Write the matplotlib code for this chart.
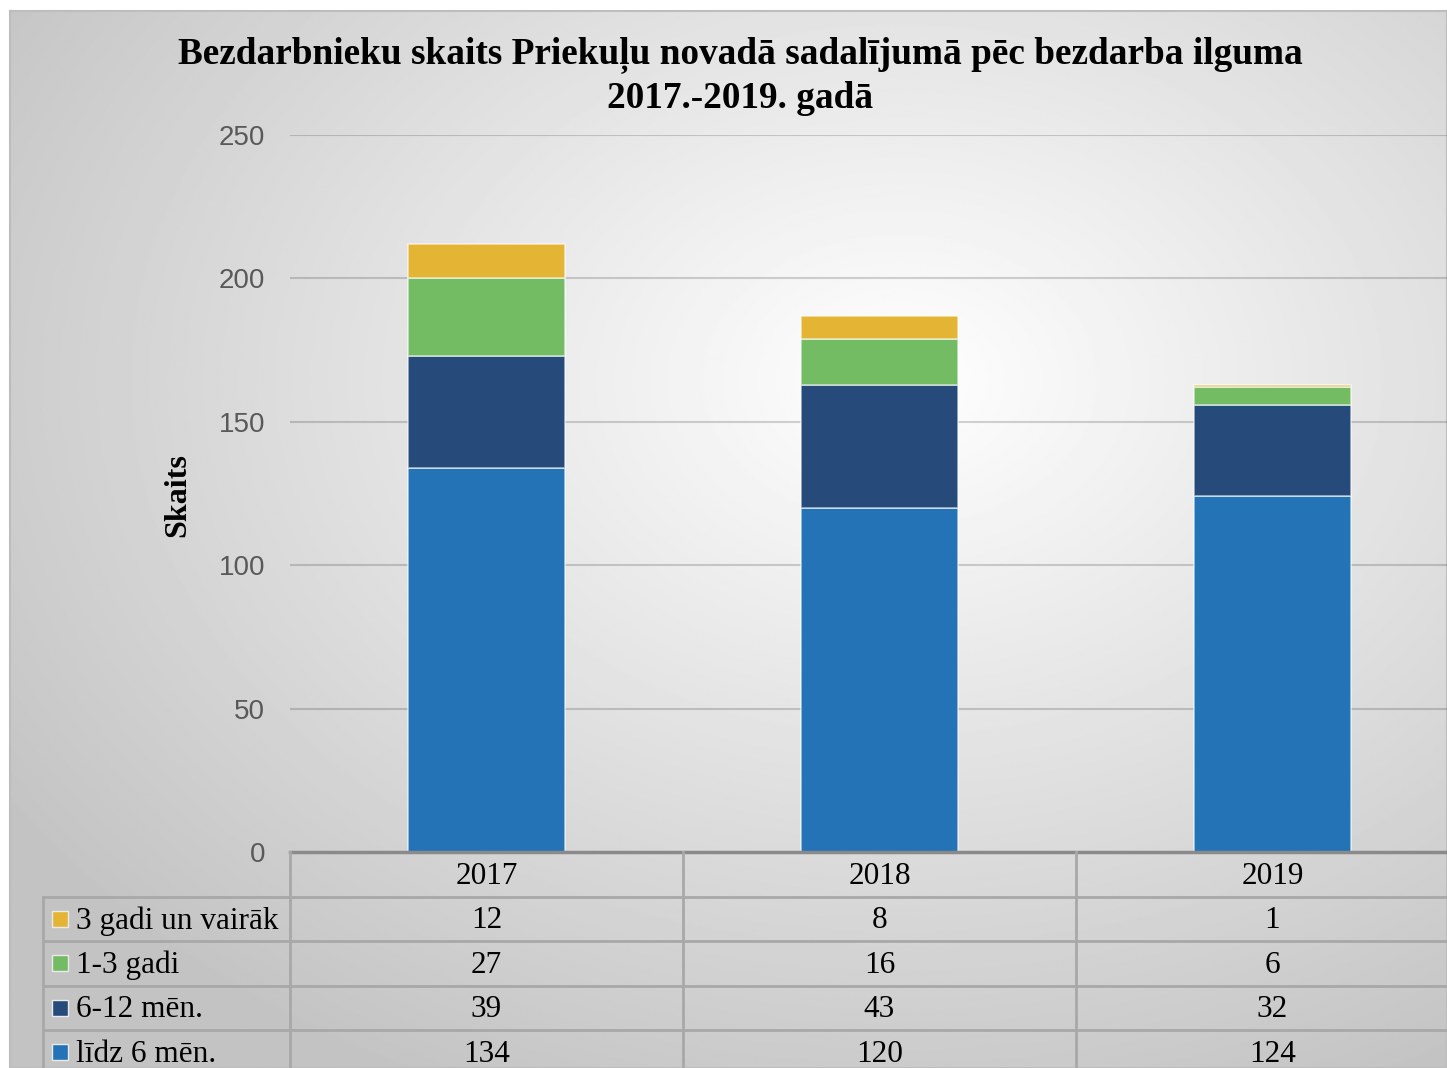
import numpy as np
import matplotlib.pyplot as plt

# Data
years = ['2017', '2018', '2019']
series_names = ['līdz 6 mēn.', '6-12 mēn.', '1-3 gadi', '3 gadi un vairāk']
lidz_6_men = [134, 120, 124]
men_6_12 = [39, 43, 32]
gadi_1_3 = [27, 16, 6]
gadi_3_plus = [12, 8, 1]
series_values = [lidz_6_men, men_6_12, gadi_1_3, gadi_3_plus]
series_colors = ['#2473b6', '#264b7b', '#74bc63', '#e4b534']

title_lines = ['Bezdarbnieku skaits Priekuļu novadā sadalījumā pēc bezdarba ilguma',
               '2017.-2019. gadā']

W, H = 1447, 1068
fig = plt.figure(figsize=(W / 100, H / 100), dpi=100, facecolor='white')

# Background with radial gradient ########
bg = fig.add_axes([10 / W, 0, 1 - 10 / W, (H - 11) / H])
xx, yy = np.meshgrid(np.linspace(10, W, 800), np.linspace(11, H, 600))
r = np.sqrt(((xx - 900) / 1437) ** 2 + ((yy - 380) / 1057) ** 2)
shade = np.clip(255 - 80 * r, 196, 255) / 255
bg.imshow(shade, cmap='gray', vmin=0, vmax=1, aspect='auto',
          extent=[0, 1, 0, 1], interpolation='bilinear')
bg.set_xticks([])
bg.set_yticks([])
for sp in bg.spines.values():
    sp.set_color('#bdbdbd')
    sp.set_linewidth(1.5)

# Title and y label
fig.text(740 / W, 1 - 55 / H, title_lines[0], ha='center', va='center',
         family='Liberation Serif', weight='bold', fontsize=26.8)
fig.text(740 / W, 1 - 98 / H, title_lines[1], ha='center', va='center',
         family='Liberation Serif', weight='bold', fontsize=26.8)
fig.text(178 / W, 1 - 495 / H, 'Skaits', ha='center', va='center', rotation=90,
         family='Liberation Serif', weight='bold', fontsize=23)

# Bar chart ########
ax = fig.add_axes([290 / W, (H - 852) / H, 1179 / W, 717 / H])
ax.set_facecolor('none')
x = np.arange(len(years))
bottom = np.zeros(len(years))
for vals, color in zip(series_values, series_colors):
    ax.bar(x, vals, width=0.397, bottom=bottom, color=color,
           edgecolor=(1, 1, 1, 0.6), linewidth=1.2, zorder=3)
    bottom += np.array(vals)

ax.set_xlim(-0.5, 2.5)
ax.set_ylim(0, 250)
ax.set_yticks(range(0, 251, 50))
ax.set_xticks([])
for yv in range(50, 251, 50):
    ax.axhline(yv, color='black', alpha=0.17, linewidth=1.5, zorder=1)
for side in ['top', 'right', 'left']:
    ax.spines[side].set_visible(False)
ax.spines['bottom'].set_color('#8a8a8a')
ax.spines['bottom'].set_linewidth(2.5)
ax.spines['bottom'].set_zorder(5)
ax.tick_params(axis='y', length=0, pad=18, labelsize=20, labelcolor='#595959')
for lbl in ax.get_yticklabels():
    lbl.set_family('Liberation Sans')

# Data table ########
row_h = 44.5
tax = fig.add_axes([290 / W, (H - 852 - 5 * row_h) / H, 1179 / W, 5 * row_h / H])
tax.set_facecolor('none')
tax.set_xlim(-0.5, 2.5)
tax.set_ylim(5, 0)
tax.axis('off')

label_left = -0.5 - 247 / 393
line_kw = dict(color='#a8a8a8', linewidth=2, clip_on=False, zorder=2)
for row in range(1, 6):
    tax.plot([label_left, 2.5], [row, row], **line_kw)
for xv in [-0.5, 0.5, 1.5]:
    tax.plot([xv, xv], [0, 5], **line_kw)
tax.plot([label_left, label_left], [1, 5], **line_kw)

text_kw = dict(family='Liberation Serif', fontsize=22.5, color='black',
               va='center', ha='center', clip_on=False)
for i, yr in enumerate(years):
    tax.text(i, 0.55, yr, **text_kw)

table_rows = list(zip(series_names, series_values, series_colors))[::-1]
for r_i, (name, vals, color) in enumerate(table_rows):
    yc = r_i + 1.55
    tax.plot(-0.5 - 230 / 393, r_i + 1.5, marker='s', markersize=11,
             color=color, markeredgecolor='#eaeaea', markeredgewidth=1,
             clip_on=False, zorder=3)
    tax.text(-0.5 - 214 / 393, yc, name, **{**text_kw, 'ha': 'left'})
    for i, v in enumerate(vals):
        tax.text(i, yc, str(v), **text_kw)

fig.savefig('out.png', dpi=100, facecolor='white')
